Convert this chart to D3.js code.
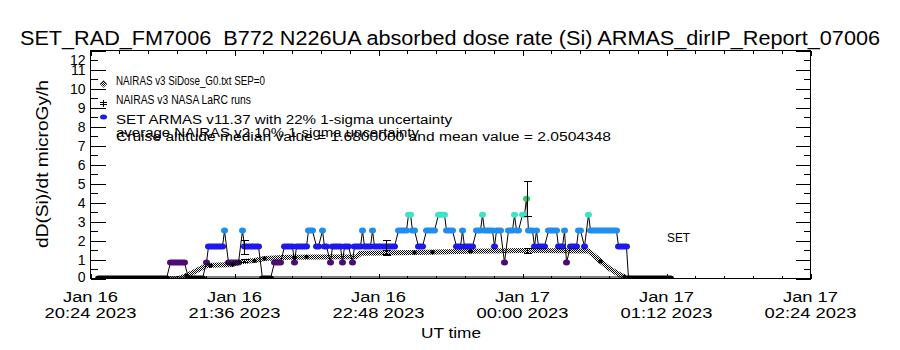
<!DOCTYPE html>
<html>
<head>
<meta charset="utf-8">
<script src="https://cdn.jsdelivr.net/npm/d3@7"></script>
<style>
  body { margin: 0; background: #fff; }
  text { font-family: "Liberation Sans", Arial, sans-serif; fill: #000; white-space: pre; }
</style>
</head>
<body>
<div id="chart"></div>
<script>
// ---- data (times are UT, Jan 16/17 2023) ----
const titleText = "SET_RAD_FM7006  B772 N226UA absorbed dose rate (Si) ARMAS_dirIP_Report_07006";

// SET ARMAS dose rate, constant runs: [start, end, microGy/h]
const armasRuns = [
  ["20:28", "21:02", 0], ["21:04", "21:11", 0.84], ["21:13", "21:20", 0],
  ["21:22", "21:22", 0.84], ["21:23", "21:30", 1.68], ["21:31", "21:31", 2.52],
  ["21:33", "21:38", 0.84], ["21:40", "21:40", 2.52], ["21:41", "21:48", 1.68],
  ["21:50", "21:54", 0], ["21:56", "21:59", 0.84], ["22:01", "22:05", 1.68],
  ["22:06", "22:06", 0.84], ["22:07", "22:12", 1.68], ["22:13", "22:15", 2.52],
  ["22:17", "22:18", 1.68], ["22:20", "22:20", 2.52], ["22:21", "22:22", 1.68],
  ["22:24", "22:24", 0.84], ["22:25", "22:29", 1.68], ["22:30", "22:30", 0.84],
  ["22:31", "22:33", 1.68], ["22:35", "22:35", 0.84], ["22:36", "22:39", 1.68],
  ["22:40", "22:40", 2.52], ["22:41", "22:44", 1.68], ["22:45", "22:45", 2.52],
  ["22:46", "22:56", 1.68], ["22:58", "23:02", 2.52], ["23:03", "23:04", 3.36],
  ["23:05", "23:06", 2.52], ["23:08", "23:10", 1.68], ["23:12", "23:16", 2.52],
  ["23:18", "23:21", 3.36], ["23:22", "23:25", 2.52], ["23:27", "23:29", 1.68],
  ["23:30", "23:30", 2.52], ["23:31", "23:35", 1.68], ["23:37", "23:39", 2.52],
  ["23:40", "23:40", 3.36], ["23:41", "23:45", 2.52], ["23:46", "23:46", 1.68],
  ["23:47", "23:49", 2.52], ["23:51", "23:51", 0.84], ["23:53", "23:55", 2.52],
  ["23:56", "23:56", 3.36], ["23:57", "23:58", 2.52], ["00:00", "00:01", 3.36],
  ["00:02", "00:02", 4.2], ["00:03", "00:05", 2.52], ["00:06", "00:06", 1.68],
  ["00:07", "00:07", 2.52], ["00:08", "00:11", 1.68], ["00:13", "00:17", 2.52],
  ["00:18", "00:20", 1.68], ["00:21", "00:21", 2.52], ["00:22", "00:22", 0.84],
  ["00:24", "00:27", 1.68], ["00:28", "00:29", 2.52], ["00:31", "00:31", 1.68],
  ["00:33", "00:33", 3.36], ["00:34", "00:47", 2.52], ["00:48", "00:52", 1.68],
  ["00:53", "01:14", 0]
];

// NAIRAS v3 SiDose_G0 model curve
const nairasCurve = [
  ["20:28", 0], ["21:08", 0], ["21:12", 0.15], ["21:22", 0.68], ["21:35", 0.74],
  ["21:39", 0.88], ["21:46", 0.95], ["21:51", 1.05], ["22:03", 1.12], ["22:37", 1.15],
  ["22:39", 1.33], ["23:06", 1.37], ["23:33", 1.43], ["00:02", 1.47], ["00:33", 1.45],
  ["00:38", 1.0], ["00:43", 0.56], ["00:48", 0.23], ["00:52", 0.03], ["00:55", 0],
  ["01:14", 0]
];

// NAIRAS v3 NASA LaRC runs
const larcRuns = [
  ["21:12", 0.15], ["21:24", 0.68], ["21:35", 0.74], ["21:46", 0.93], ["21:51", 1.05],
  ["22:06", 1.1], ["22:12", 1.14], ["23:06", 1.37], ["23:15", 1.38], ["23:34", 1.43],
  ["00:39", 0.9], ["00:51", 0.1]
];

// SEP contribution (zero)
const sepDose = [["20:28", 0], ["01:14", 0]];

// error bars: [time, low, high]
const armasErr = [["21:41", 1.31, 2.05], ["22:52", 1.31, 2.05], ["00:02", 3.28, 5.12]];
const nairasErr = [["21:41", 0.85, 1.03], ["22:52", 1.22, 1.48], ["00:02", 1.33, 1.61]];

const levelValues = [0, 0.84, 1.68, 2.52, 3.36, 4.2];
const levelColors = ["#000000", "#4e0a76", "#1c18ee", "#1e8ef2", "#3ee2c6", "#2ec95c"];

const xTickTimes = ["20:24", "21:36", "22:48", "00:00", "01:12", "02:24"];
const yTickValues = [0, 1, 2, 3, 4, 5, 6, 7, 8, 9, 10, 11, 12];

const legendLines = [
  "NAIRAS v3 SiDose_G0.txt SEP=0",
  "NAIRAS v3 NASA LaRC runs",
  "SET ARMAS v11.37 with 22% 1-sigma uncertainty",
  "average NAIRAS v2 10% 1-sigma uncertainty",
  "Cruise altitude median value = 1.6800000 and mean value = 2.0504348"
];

// ---- helpers ----
function toDate(s) {
  const [h, m] = s.split(":").map(Number);
  return new Date(Date.UTC(2023, 0, h < 12 ? 17 : 16, h, m));
}

const width = 900, height = 350;
const svg = d3.select("#chart").append("svg")
  .attr("width", width)
  .attr("height", height);

const x = d3.scaleUtc()
  .domain([toDate("20:24"), toDate("02:24")])
  .range([90.5, 810.5]);
const y = d3.scaleLinear()
  .domain([0, 12])
  .range([278.5, 50.5]);
const color = d3.scaleOrdinal().domain(levelValues).range(levelColors);

const defs = svg.append("defs");
const hatch = defs.append("pattern")
  .attr("id", "hatch")
  .attr("width", 2).attr("height", 2)
  .attr("patternUnits", "userSpaceOnUse");
hatch.append("rect").attr("width", 1).attr("height", 1).attr("fill", "#000");
hatch.append("rect").attr("x", 1).attr("y", 1).attr("width", 1).attr("height", 1).attr("fill", "#000");

defs.append("clipPath").attr("id", "plotclip")
  .append("rect").attr("x", 91).attr("y", 51).attr("width", 720).attr("height", 228);

// title
svg.append("text")
  .attr("x", 20).attr("y", 45)
  .attr("font-size", 20)
  .attr("textLength", 860)
  .attr("lengthAdjust", "spacingAndGlyphs")
  .text(titleText);

const plot = svg.append("g").attr("clip-path", "url(#plotclip)");

// ARMAS connecting line
const armasPts = armasRuns.flatMap(r => [{ t: toDate(r[0]), v: r[2] }, { t: toDate(r[1]), v: r[2] }]);
const line = d3.line().x(d => x(d.t)).y(d => y(d.v));
plot.append("path")
  .datum(armasPts)
  .attr("d", line)
  .attr("fill", "none")
  .attr("stroke", "#000")
  .attr("stroke-width", 1);

// ARMAS symbols (overlapping ovals drawn as rounded runs)
plot.selectAll(".run")
  .data(armasRuns)
  .join("rect")
  .attr("class", "run")
  .attr("x", d => x(toDate(d[0])) - 3.5)
  .attr("width", d => x(toDate(d[1])) - x(toDate(d[0])) + 7)
  .attr("y", d => y(d[2]) - 3)
  .attr("height", 6)
  .attr("rx", 3.5).attr("ry", 3)
  .attr("fill", d => color(d[2]));

// NAIRAS hatched curve
plot.append("path")
  .datum(nairasCurve)
  .attr("d", d3.line().x(d => x(toDate(d[0]))).y(d => y(d[1])))
  .attr("fill", "none")
  .attr("stroke", "url(#hatch)")
  .attr("stroke-width", 5)
  .attr("stroke-linejoin", "round");

// SEP zero line (dotted)
plot.append("path")
  .datum(sepDose)
  .attr("d", d3.line().x(d => x(toDate(d[0]))).y(d => y(d[1]) - 1.5))
  .attr("fill", "none")
  .attr("stroke", "#000")
  .attr("stroke-width", 2)
  .attr("stroke-dasharray", "1,1");

// LaRC runs
plot.selectAll(".larc")
  .data(larcRuns)
  .join("circle")
  .attr("class", "larc")
  .attr("cx", d => x(toDate(d[0])))
  .attr("cy", d => y(d[1]))
  .attr("r", 2.2)
  .attr("fill", "#000");

// error bars
function errBars(data) {
  const eg = plot.append("g").attr("stroke", "#000").attr("shape-rendering", "crispEdges");
  data.forEach(d => {
    const cx = Math.round(x(toDate(d[0]))) + 0.5;
    const y0 = Math.round(y(d[1])) + 0.5, y1 = Math.round(y(d[2])) + 0.5;
    eg.append("line").attr("x1", cx).attr("x2", cx).attr("y1", y0).attr("y2", y1);
    eg.append("line").attr("x1", cx - 4).attr("x2", cx + 4).attr("y1", y0).attr("y2", y0);
    eg.append("line").attr("x1", cx - 4).attr("x2", cx + 4).attr("y1", y1).attr("y2", y1);
  });
}
errBars(armasErr);
errBars(nairasErr);

// ---- axes ----
const xMinor = d3.range(0, 26).map(i => new Date(+toDate("20:24") + i * 14.4 * 60000));
const yMinor = d3.range(0.5, 12, 1);

function clean(sel) {
  sel.select(".domain").remove();
  sel.selectAll("line").attr("shape-rendering", "crispEdges");
}

const left = svg.append("g").attr("transform", "translate(90.5,0)")
  .call(d3.axisLeft(y).tickValues(yTickValues).tickSizeInner(-15).tickSizeOuter(0).tickPadding(5).tickFormat(d3.format("d")))
  .call(clean);
left.selectAll("text")
  .attr("font-size", 14).attr("font-family", "Liberation Sans, Arial, sans-serif").attr("fill", "#000")
  .attr("dy", d => d === 12 ? "0.97em" : d === 0 ? "0.18em" : "0.36em");
svg.append("g").attr("transform", "translate(90.5,0)")
  .call(d3.axisLeft(y).tickValues(yMinor).tickSize(-7).tickFormat(""))
  .call(clean);
svg.append("g").attr("transform", "translate(810.5,0)")
  .call(d3.axisRight(y).tickValues(yTickValues).tickSize(-15).tickFormat(""))
  .call(clean);
svg.append("g").attr("transform", "translate(810.5,0)")
  .call(d3.axisRight(y).tickValues(yMinor).tickSize(-7).tickFormat(""))
  .call(clean);

const xMajor = xTickTimes.map(toDate);
svg.append("g").attr("transform", "translate(0,278.5)")
  .call(d3.axisBottom(x).tickValues(xMajor).tickSize(-5).tickFormat(""))
  .call(clean);
svg.append("g").attr("transform", "translate(0,278.5)")
  .call(d3.axisBottom(x).tickValues(xMinor).tickSize(-3).tickFormat(""))
  .call(clean);
svg.append("g").attr("transform", "translate(0,50.5)")
  .call(d3.axisTop(x).tickValues(xMajor).tickSize(-5).tickFormat(""))
  .call(clean);
svg.append("g").attr("transform", "translate(0,50.5)")
  .call(d3.axisTop(x).tickValues(xMinor).tickSize(-3).tickFormat(""))
  .call(clean);
svg.selectAll(".tick line").attr("stroke", "#000");

// plot border
svg.append("rect")
  .attr("x", 90.5).attr("y", 50.5).attr("width", 720).attr("height", 228)
  .attr("fill", "none").attr("stroke", "#000").attr("shape-rendering", "crispEdges");

// x tick labels (two rows)
const fmtDay = d3.utcFormat("%b %d"), fmtTime = d3.utcFormat("%H:%M %Y");
svg.selectAll(".xl1").data(xMajor).join("text")
  .attr("class", "xl1")
  .attr("x", d => x(d)).attr("y", 302)
  .attr("text-anchor", "middle").attr("font-size", 14)
  .attr("textLength", 55).attr("lengthAdjust", "spacingAndGlyphs")
  .text(d => fmtDay(d));
svg.selectAll(".xl2").data(xMajor).join("text")
  .attr("class", "xl2")
  .attr("x", d => x(d)).attr("y", 318)
  .attr("text-anchor", "middle").attr("font-size", 14)
  .attr("textLength", 92).attr("lengthAdjust", "spacingAndGlyphs")
  .text(d => fmtTime(d));

// axis titles
svg.append("text")
  .attr("x", 451).attr("y", 338)
  .attr("text-anchor", "middle").attr("font-size", 14)
  .attr("textLength", 60).attr("lengthAdjust", "spacingAndGlyphs")
  .text("UT time");
svg.append("text")
  .attr("transform", "translate(48,164) rotate(-90)")
  .attr("text-anchor", "middle").attr("font-size", 16)
  .attr("textLength", 168).attr("lengthAdjust", "spacingAndGlyphs")
  .text("dD(Si)/dt microGy/h");

// legend
const legendBase = [85, 104, 123.5, 136.5, 140.5];
const legendLen = [149, 135, 336, 303, 495];
const legendSize = [13, 13, 12, 12, 12];
svg.selectAll(".leg").data(legendLines).join("text")
  .attr("class", "leg")
  .attr("x", 116).attr("y", (d, i) => legendBase[i])
  .attr("font-size", (d, i) => legendSize[i])
  .attr("textLength", (d, i) => legendLen[i]).attr("lengthAdjust", "spacingAndGlyphs")
  .text(d => d);

svg.append("path")
  .attr("d", "M103.5,80.5 L107,84 L103.5,87.5 L100,84 Z")
  .attr("fill", "url(#hatch)").attr("stroke", "#555").attr("stroke-width", 0.8);
svg.append("path")
  .attr("d", "M103.5,99.5 V106.5 M100,102.5 H107 M100,104.5 H107")
  .attr("stroke", "#000").attr("stroke-width", 1).attr("shape-rendering", "crispEdges");
svg.append("ellipse")
  .attr("cx", 103.5).attr("cy", 117).attr("rx", 3.5).attr("ry", 2.5)
  .attr("fill", color(1.68));

// in-plot label
svg.append("text")
  .attr("x", 667).attr("y", 241.5)
  .attr("font-size", 13)
  .attr("textLength", 23).attr("lengthAdjust", "spacingAndGlyphs")
  .text("SET");
</script>
</body>
</html>
